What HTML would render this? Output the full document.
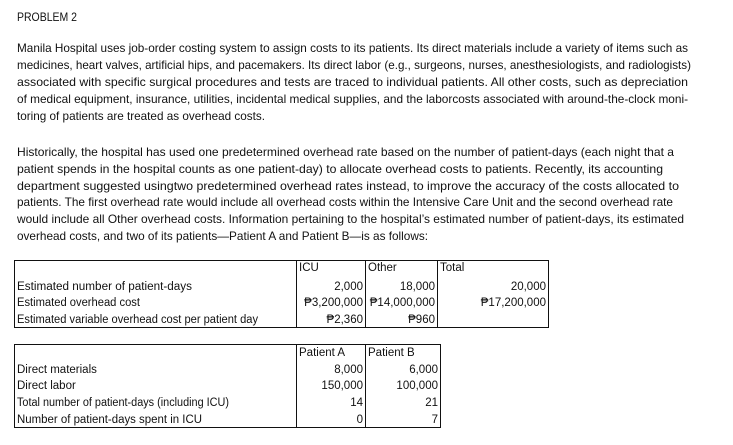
<!DOCTYPE html>
<html><head><meta charset="utf-8"><style>
html,body{margin:0;padding:0;background:#fff;}
svg{display:block;}
text{font-family:"Liberation Sans","DejaVu Sans",sans-serif;font-size:11.5px;fill:#111;}
.p{font-size:12px;}
.r{text-anchor:end;}
</style></head><body>
<svg width="733" height="445" viewBox="0 0 733 445" xmlns="http://www.w3.org/2000/svg">
<text class="p" x="17" y="21" textLength="60" lengthAdjust="spacingAndGlyphs">PROBLEM 2</text>

<text class="p" x="17" y="52" textLength="671" lengthAdjust="spacingAndGlyphs">Manila Hospital uses job-order costing system to assign costs to its patients. Its direct materials include a variety of items such as</text>
<text class="p" x="17" y="69" textLength="674" lengthAdjust="spacingAndGlyphs">medicines, heart valves, artificial hips, and pacemakers. Its direct labor (e.g., surgeons, nurses, anesthesiologists, and radiologists)</text>
<text class="p" x="17" y="86" textLength="671" lengthAdjust="spacingAndGlyphs">associated with specific surgical procedures and tests are traced to individual patients. All other costs, such as depreciation</text>
<text class="p" x="17" y="103" textLength="671" lengthAdjust="spacingAndGlyphs">of medical equipment, insurance, utilities, incidental medical supplies, and the laborcosts associated with around-the-clock moni-</text>
<text class="p" x="17" y="120" textLength="248" lengthAdjust="spacingAndGlyphs">toring of patients are treated as overhead costs.</text>

<text class="p" x="17" y="156" textLength="657" lengthAdjust="spacingAndGlyphs">Historically, the hospital has used one predetermined overhead rate based on the number of patient-days (each night that a</text>
<text class="p" x="17" y="173" textLength="646" lengthAdjust="spacingAndGlyphs">patient spends in the hospital counts as one patient-day) to allocate overhead costs to patients. Recently, its accounting</text>
<text class="p" x="17" y="190" textLength="662" lengthAdjust="spacingAndGlyphs">department suggested usingtwo predetermined overhead rates instead, to improve the accuracy of the costs allocated to</text>
<text class="p" x="17" y="206" textLength="656" lengthAdjust="spacingAndGlyphs">patients. The first overhead rate would include all overhead costs within the Intensive Care Unit and the second overhead rate</text>
<text class="p" x="17" y="223" textLength="667" lengthAdjust="spacingAndGlyphs">would include all Other overhead costs. Information pertaining to the hospital’s estimated number of patient-days, its estimated</text>
<text class="p" x="17" y="240" textLength="411" lengthAdjust="spacingAndGlyphs">overhead costs, and two of its patients—Patient A and Patient B—is as follows:</text>

<g fill="none" stroke="#111" stroke-width="1">
<rect x="14.5" y="260.5" width="534" height="67"/>
<line x1="296.5" y1="260" x2="296.5" y2="328"/>
<line x1="365.5" y1="260" x2="365.5" y2="328"/>
<line x1="437.5" y1="260" x2="437.5" y2="328"/>
</g>
<text x="299" y="271">ICU</text>
<text x="368" y="271">Other</text>
<text x="440" y="271">Total</text>
<text x="17" y="290" textLength="175" lengthAdjust="spacingAndGlyphs">Estimated number of patient-days</text>
<text x="17" y="306" textLength="123" lengthAdjust="spacingAndGlyphs">Estimated overhead cost</text>
<text x="17" y="323" textLength="241" lengthAdjust="spacingAndGlyphs">Estimated variable overhead cost per patient day</text>
<text class="r" x="363" y="290">2,000</text>
<text class="r" x="435" y="290">18,000</text>
<text class="r" x="546" y="290">20,000</text>
<text class="r" x="363" y="306">₱3,200,000</text>
<text class="r" x="435" y="306">₱14,000,000</text>
<text class="r" x="546" y="306">₱17,200,000</text>
<text class="r" x="363" y="323">₱2,360</text>
<text class="r" x="435" y="323">₱960</text>

<g fill="none" stroke="#111" stroke-width="1">
<rect x="14.5" y="344.5" width="426" height="83"/>
<line x1="296.5" y1="344" x2="296.5" y2="428"/>
<line x1="365.5" y1="344" x2="365.5" y2="428"/>
</g>
<text x="299" y="356">Patient A</text>
<text x="368" y="356">Patient B</text>
<text x="17" y="373">Direct materials</text>
<text x="17" y="389">Direct labor</text>
<text x="17" y="406" textLength="212" lengthAdjust="spacingAndGlyphs">Total number of patient-days (including ICU)</text>
<text x="17" y="423" textLength="185" lengthAdjust="spacingAndGlyphs">Number of patient-days spent in ICU</text>
<text class="r" x="363" y="373">8,000</text>
<text class="r" x="438" y="373">6,000</text>
<text class="r" x="363" y="389">150,000</text>
<text class="r" x="438" y="389">100,000</text>
<text class="r" x="363" y="406">14</text>
<text class="r" x="438" y="406">21</text>
<text class="r" x="363" y="423">0</text>
<text class="r" x="438" y="423">7</text>
</svg>
</body></html>
